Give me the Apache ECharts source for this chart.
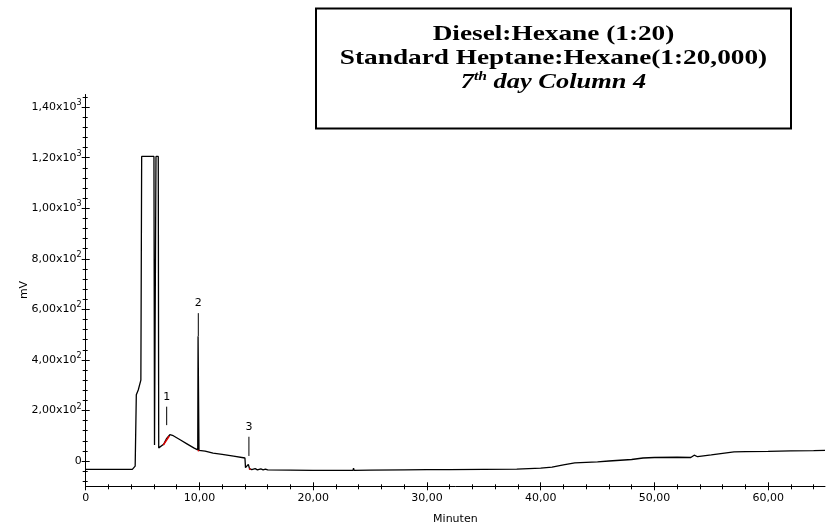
<!DOCTYPE html>
<html>
<head>
<meta charset="utf-8">
<script src="https://cdn.jsdelivr.net/npm/echarts@6/dist/echarts.min.js"></script>
<style>html,body{margin:0;padding:0;background:#fff}#c{width:831px;height:528px}</style>
</head>
<body>
<div id="c"></div>
<script>
// ---- data ----
const timeMin = [0, 1.0, 2.0, 2.05, 2.1, 2.7, 2.75, 2.8, 4.1, 4.2, 4.35, 4.45, 4.62, 4.85, 4.92, 6.0, 6.05, 6.12, 6.18, 6.38, 6.42,
  6.85, 7.1, 7.4, 7.7, 8.3, 8.9, 9.5, 9.85, 9.88, 9.93, 9.96, 10.5, 11.2, 12.0, 13.0, 14.0, 14.05, 14.2, 14.3, 14.4, 14.6,
  14.9, 15.1, 15.4, 15.6, 15.8, 16.0, 18.0, 20.0, 22.0, 23.5, 23.55, 23.6, 25.0, 28.0, 30.0, 32.0, 32.05, 32.1, 35.0, 37.9,
  38.0, 40.0, 41.0, 42.0, 43.0, 44.0, 45.0, 46.0, 47.0, 48.0, 49.0, 50.0, 52.0, 53.2, 53.5, 53.8, 55.0, 56.0, 57.0, 58.0,
  60.0, 62.0, 64.0, 65.0];
const signalMv = [-33, -33, -33, -28, -33, -33, -29, -33, -33, -30, -20, 262, 281, 320, 1205, 1205, 63, 60, 1205, 1205, 52,
  66, 88, 104, 100, 84, 68, 52, 44, 494, 494, 42, 39, 31, 26, 19, 12, -26, -20, -13, -30, -34,
  -30, -35, -31, -35, -32, -35, -36, -37, -37, -37, -28, -37, -36, -35, -34, -34, -27, -34, -33, -32,
  -30, -28, -24, -15, -7, -5, -3, 0, 3, 6, 12, 14, 15, 14, 23, 17, 24, 30, 36, 37,
  38, 40, 41, 42];

// integration baselines drawn in red (null separates segments)
const redTime = [6.82, 7.35, null, 9.85, 9.98, null, 14.35, 14.5];
const redMv   = [63, 99, null, 42, 41, null, -32, -33];

// peak markers
const peakLabels = ['1', '2', '3'];
const peakTime = [7.12, 9.9, 14.35];
const peakMarkLow = [142, 494, 20];
const peakMarkHigh = [215, 585, 96];

// axes
const xLabelValues = [0, 10, 20, 30, 40, 50, 60];
const xMinorValues = [2, 4, 6, 8, 12, 14, 16, 18, 22, 24, 26, 28, 32, 34, 36, 38, 42, 44, 46, 48, 52, 54, 56, 58, 62, 64];
const yLabelValues = [0, 200, 400, 600, 800, 1000, 1200, 1400];
const yMinorValues = [-80, -40, 40, 80, 120, 160, 240, 280, 320, 360, 440, 480, 520, 560, 640, 680, 720, 760,
  840, 880, 920, 960, 1040, 1080, 1120, 1160, 1240, 1280, 1320, 1360, 1440];

const titleLines = ['Diesel:Hexane (1:20)', 'Standard Heptane:Hexane(1:20,000)'];

// ---- chart ----
const FONT = 'DejaVu Sans';
const X_MIN = 0, X_MAX = 65, Y_MIN = -100, Y_MAX = 1450;

function yFmt(v) {
  if (v === 0) return '0';
  const e = Math.floor(Math.log10(Math.abs(v)) + 1e-9);
  const m = (v / Math.pow(10, e)).toFixed(2).replace('.', ',');
  return '{m|' + m + 'x10}{s|' + e + '}';
}
function xFmt(v) { return v === 0 ? '0' : v.toFixed(2).replace('.', ','); }

function xAx(extra) {
  return Object.assign({
    type: 'value', min: X_MIN, max: X_MAX, position: 'bottom', offset: 0, gridIndex: 0,
    splitLine: { show: false }, axisLine: { show: false, onZero: false }, axisLabel: { show: false },
    axisTick: { show: false }
  }, extra);
}
function yAx(extra) {
  return Object.assign({
    type: 'value', min: Y_MIN, max: Y_MAX, position: 'left', offset: 0, gridIndex: 0,
    splitLine: { show: false }, axisLine: { show: false, onZero: false }, axisLabel: { show: false },
    axisTick: { show: false }
  }, extra);
}

const chart = echarts.init(document.getElementById('c'), null, { renderer: 'canvas' });
chart.setOption({
  animation: false,
  backgroundColor: '#fff',
  grid: { left: 85.7, right: 6, top: 94.5, bottom: 41.7, containLabel: false, outerBoundsMode: 'none' },
  xAxis: [
    xAx({
      axisLine: { show: true, onZero: false, lineStyle: { color: '#000', width: 1 } },
      axisTick: { show: true, customValues: xLabelValues, length: 4, lineStyle: { color: '#000' } },
      axisLabel: { show: true, customValues: xLabelValues, formatter: xFmt, margin: 6,
        fontFamily: FONT, fontSize: 11, color: '#000' },
      name: 'Minuten', nameLocation: 'middle', nameGap: 27,
      nameTextStyle: { fontFamily: FONT, fontSize: 11, color: '#000' }
    }),
    xAx({ axisTick: { show: true, inside: true, customValues: xLabelValues, length: 4, lineStyle: { color: '#000' } } }),
    xAx({ axisTick: { show: true, customValues: xMinorValues, length: 3, lineStyle: { color: '#000' } } }),
    xAx({ axisTick: { show: true, inside: true, customValues: xMinorValues, length: 2, lineStyle: { color: '#000' } } })
  ],
  yAxis: [
    yAx({
      axisLine: { show: true, onZero: false, lineStyle: { color: '#000', width: 1 } },
      axisTick: { show: true, customValues: yLabelValues, length: 4, lineStyle: { color: '#000' } },
      axisLabel: { show: true, customValues: yLabelValues, formatter: yFmt, margin: 4,
        fontFamily: FONT, fontSize: 11, color: '#000',
        rich: {
          m: { fontFamily: FONT, fontSize: 11, color: '#000', lineHeight: 16, verticalAlign: 'middle' },
          s: { fontFamily: FONT, fontSize: 8, color: '#000', lineHeight: 6, verticalAlign: 'top' }
        } }
    }),
    yAx({ axisTick: { show: true, inside: true, customValues: yLabelValues, length: 4, lineStyle: { color: '#000' } } }),
    yAx({ axisTick: { show: true, customValues: yMinorValues, length: 3, lineStyle: { color: '#000' } } }),
    yAx({ axisTick: { show: true, inside: true, customValues: yMinorValues, length: 2, lineStyle: { color: '#000' } } })
  ],
  series: [
    {
      type: 'line', xAxisIndex: 0, yAxisIndex: 0, showSymbol: false, symbol: 'none',
      data: timeMin.map((t, i) => [t, signalMv[i]]),
      lineStyle: { color: '#000', width: 1.3 }, z: 2
    },
    {
      type: 'line', xAxisIndex: 0, yAxisIndex: 0, showSymbol: false, symbol: 'none', connectNulls: false,
      data: redTime.map((t, i) => t === null ? [null, null] : [t, redMv[i]]),
      lineStyle: { color: '#e00000', width: 1.5 }, z: 3
    },
    {
      type: 'custom', xAxisIndex: 0, yAxisIndex: 0, z: 4,
      data: peakTime.map((t, i) => [t, peakMarkLow[i], peakMarkHigh[i], i]),
      encode: { x: 0, y: [1, 2] },
      renderItem: function (params, api) {
        const t = api.value(0);
        const lo = api.coord([t, api.value(1)]);
        const hi = api.coord([t, api.value(2)]);
        const idx = api.value(3);
        return {
          type: 'group',
          children: [
            { type: 'line', shape: { x1: lo[0], y1: lo[1], x2: hi[0], y2: hi[1] },
              style: { stroke: '#000', lineWidth: 1 } },
            { type: 'text', x: hi[0], y: hi[1] - 10,
              style: { text: peakLabels[idx], fill: '#000', font: '11px "DejaVu Sans"',
                align: 'center', verticalAlign: 'middle' } }
          ]
        };
      }
    }
  ],
  graphic: [
    { type: 'rect', shape: { x: 316, y: 8.5, width: 475, height: 120 },
      style: { fill: '#fff', stroke: '#000', lineWidth: 2 }, z: 10 },
    { type: 'text', x: 553.5, y: 34, scaleX: 1.24, z: 11,
      style: { text: titleLines[0], font: 'bold 22px "Liberation Serif"', fill: '#000',
        align: 'center', verticalAlign: 'middle' } },
    { type: 'text', x: 553.5, y: 58, scaleX: 1.24, z: 11,
      style: { text: titleLines[1], font: 'bold 22px "Liberation Serif"', fill: '#000',
        align: 'center', verticalAlign: 'middle' } },
    { type: 'text', x: 553.5, y: 82, scaleX: 1.2, z: 11,
      style: { text: '{a|7}{s|th}{a| day Column 4}', align: 'center', verticalAlign: 'middle',
        rich: {
          a: { font: 'italic bold 22px "Liberation Serif"', fill: '#000', lineHeight: 24, verticalAlign: 'middle' },
          s: { font: 'italic bold 13px "Liberation Serif"', fill: '#000', lineHeight: 10, verticalAlign: 'top' }
        } } },
    { type: 'text', x: 24.5, y: 290, rotation: Math.PI / 2, z: 11,
      style: { text: 'mV', font: '11px "DejaVu Sans"', fill: '#000', align: 'center', verticalAlign: 'middle' } }
  ]
});
</script>
</body>
</html>
